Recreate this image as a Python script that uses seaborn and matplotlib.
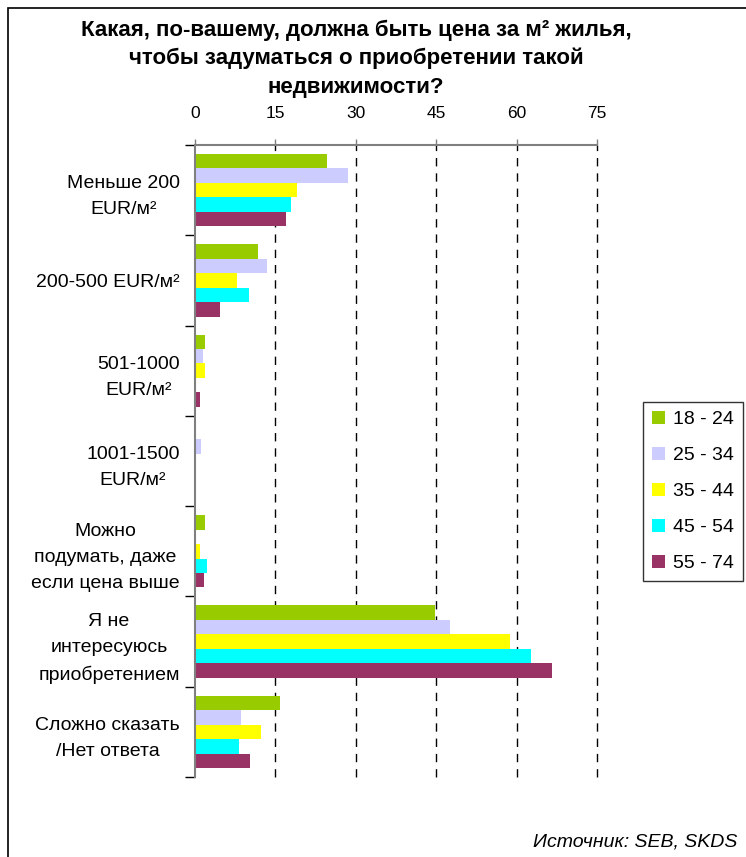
import matplotlib
matplotlib.use("Agg")
import matplotlib.pyplot as plt
import matplotlib.patches as mpatches
import numpy as np
import pandas as pd
import seaborn as sns

# answer categories (y axis)
categories = ["Меньше 200\nEUR/м²", "200-500 EUR/м²", "501-1000\nEUR/м²",
              "1001-1500\nEUR/м²", "Можно\nподумать, даже\nесли цена выше",
              "Я не\nинтересуюсь\nприобретением", "Сложно сказать\n/Нет ответа"]
age_groups = ["18 - 24", "25 - 34", "35 - 44", "45 - 54", "55 - 74"]

# percent per age group, same order as categories
age_18_24 = [24.7, 11.7, 1.9, 0.0, 1.9, 44.8, 15.9]
age_25_34 = [28.6, 13.5, 1.5, 1.2, 0.0, 47.5, 8.6]
age_35_44 = [19.1, 7.8, 1.9, 0.0, 0.9, 58.8, 12.4]
age_45_54 = [18.0, 10.0, 0.0, 0.0, 2.2, 62.7, 8.2]
age_55_74 = [17.0, 4.7, 0.9, 0.0, 1.6, 66.6, 10.3]

x_ticks = [0, 15, 30, 45, 60, 75]
colors = ["#99CC00", "#CCCCFF", "#FFFF00", "#00FFFF", "#993366"]

title_lines = ["Какая, по-вашему, должна быть цена за м² жилья,",
               "чтобы задуматься о приобретении такой",
               "недвижимости?"]
source = "Источник: SEB, SKDS"

# long table for seaborn
series = [age_18_24, age_25_34, age_35_44, age_45_54, age_55_74]
rows = []
for group, vals in zip(age_groups, series):
    for cat, v in zip(categories, vals):
        rows.append({"cat": cat, "age": group, "val": v})
df = pd.DataFrame(rows)

sns.set_theme(style="white", rc={"text.color": "black",
                                 "xtick.color": "black",
                                 "ytick.color": "black"})
plt.rcParams["font.family"] = ["Liberation Sans", "DejaVu Sans"]

W, H = 746, 857
fig = plt.figure(figsize=(W / 100, H / 100), dpi=100)
ax = fig.add_axes([195 / W, 1 - 777 / H, (597 - 195) / W, (777 - 145) / H])

sns.barplot(data=df, y="cat", x="val", hue="age", hue_order=age_groups,
            order=categories, palette=colors, orient="h", width=0.8,
            linewidth=0, saturation=1, legend=True, ax=ax)

ax.set_xlim(0, 75)
ax.set_ylim(len(categories) - 0.5, -0.5)
ax.set_xlabel("")
ax.set_ylabel("")

# x axis on top
ax.xaxis.tick_top()
ax.set_xticks(x_ticks)
ax.set_xticklabels([str(t) for t in x_ticks], fontsize=12.5)
ax.tick_params(axis="x", top=True, bottom=False, length=4, width=1,
               color="#808080", pad=13, direction="out")
for t in x_ticks[1:]:
    ax.axvline(t, color="black", linestyle=(0, (6, 5)), linewidth=1,
               zorder=0, clip_on=False)

# y ticks between categories, labels at centers
ax.set_yticks(range(len(categories)))
ax.set_yticklabels(categories, fontsize=14, multialignment="center",
                   linespacing=1.7)
ax.tick_params(axis="y", which="major", length=0, pad=11)
ax.set_yticks(np.arange(-0.5, len(categories)), minor=True)
ax.tick_params(axis="y", which="minor", left=True, length=7, width=1,
               color="black", direction="out")

for side in ["right", "bottom"]:
    ax.spines[side].set_visible(False)
for side in ["left", "top"]:
    ax.spines[side].set_color("#808080")
    ax.spines[side].set_linewidth(1.5)

# legend
handles, labels = ax.get_legend_handles_labels()
ax.get_legend().remove()
leg = fig.legend(handles, labels, loc="upper left",
                 bbox_to_anchor=(643 / W, 1 - 402 / H), fontsize=14,
                 frameon=True, fancybox=False, borderpad=0.45,
                 labelspacing=0.95, handlelength=0.68, handleheight=0.68,
                 handletextpad=0.42, borderaxespad=0)
leg.get_frame().set_edgecolor("black")
leg.get_frame().set_linewidth(1)

# title
for i, line in enumerate(title_lines):
    fig.text(356 / W, 1 - (30 + i * 28.5) / H, line, ha="center", va="center",
             fontsize=16, fontweight="bold")

fig.text(533 / W, 1 - 842 / H, source, ha="left", va="center",
         fontsize=14, style="italic")

# outer frame (right and bottom are cut off)
fig.patches.append(mpatches.Rectangle((8 / W, -0.1), 1.2, 1 - 8 / H + 0.1,
                                      transform=fig.transFigure, fill=False,
                                      edgecolor="black", linewidth=1.2))

fig.savefig("out.png", dpi=100)
